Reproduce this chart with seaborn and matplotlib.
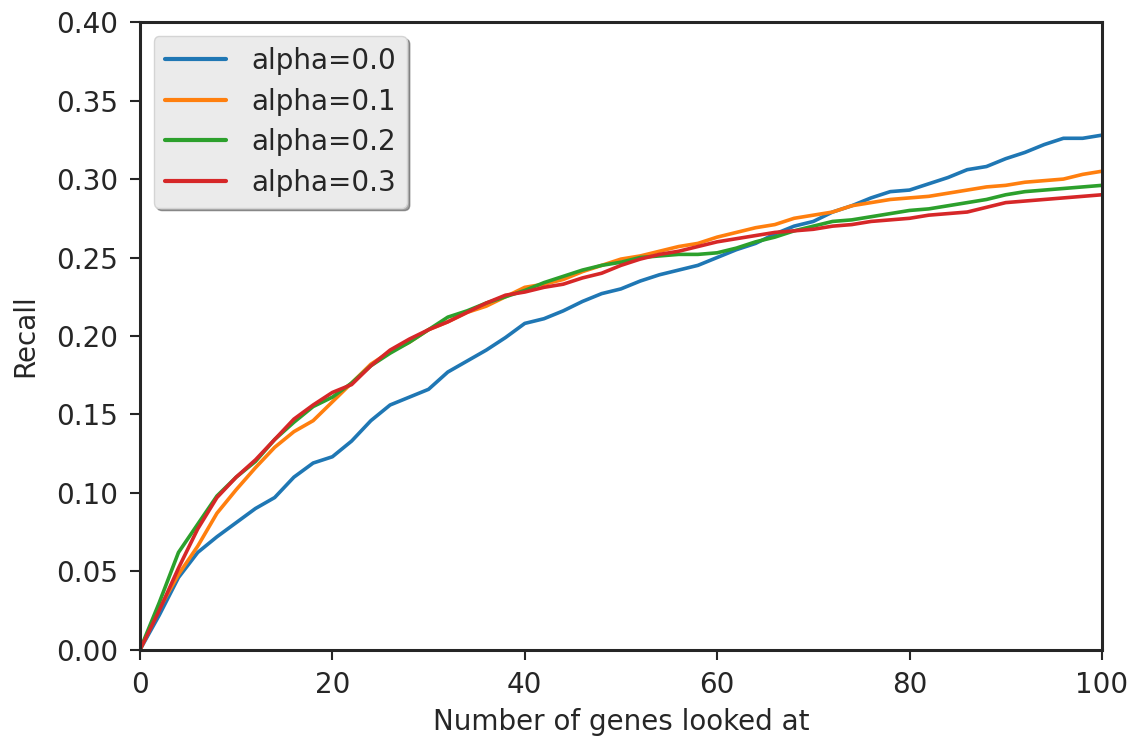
import numpy as np
import pandas as pd
import seaborn as sns
import matplotlib.pyplot as plt

# genes looked at (every 2nd point)
n_genes = list(range(0, 101, 2))

recall_a00 = [0.000, 0.022, 0.046, 0.062, 0.072, 0.081, 0.090, 0.097, 0.110, 0.119,
              0.123, 0.133, 0.146, 0.156, 0.161, 0.166, 0.177, 0.184, 0.191, 0.199,
              0.208, 0.211, 0.216, 0.222, 0.227, 0.230, 0.235, 0.239, 0.242, 0.245,
              0.250, 0.255, 0.259, 0.265, 0.270, 0.273, 0.279, 0.283, 0.288, 0.292,
              0.293, 0.297, 0.301, 0.306, 0.308, 0.313, 0.317, 0.322, 0.326, 0.326,
              0.328]
recall_a01 = [0.000, 0.026, 0.048, 0.066, 0.087, 0.102, 0.116, 0.129, 0.139, 0.146,
              0.158, 0.170, 0.182, 0.190, 0.196, 0.204, 0.209, 0.215, 0.219, 0.225,
              0.231, 0.233, 0.236, 0.241, 0.245, 0.249, 0.251, 0.254, 0.257, 0.259,
              0.263, 0.266, 0.269, 0.271, 0.275, 0.277, 0.279, 0.283, 0.285, 0.287,
              0.288, 0.289, 0.291, 0.293, 0.295, 0.296, 0.298, 0.299, 0.300, 0.303,
              0.305]
recall_a02 = [0.000, 0.030, 0.062, 0.080, 0.098, 0.110, 0.120, 0.134, 0.145, 0.155,
              0.161, 0.170, 0.181, 0.189, 0.196, 0.204, 0.212, 0.216, 0.221, 0.225,
              0.229, 0.234, 0.238, 0.242, 0.245, 0.247, 0.250, 0.251, 0.252, 0.252,
              0.253, 0.256, 0.260, 0.263, 0.267, 0.270, 0.273, 0.274, 0.276, 0.278,
              0.280, 0.281, 0.283, 0.285, 0.287, 0.290, 0.292, 0.293, 0.294, 0.295,
              0.296]
recall_a03 = [0.000, 0.025, 0.052, 0.077, 0.097, 0.110, 0.121, 0.134, 0.147, 0.156,
              0.164, 0.169, 0.181, 0.191, 0.198, 0.204, 0.209, 0.215, 0.221, 0.226,
              0.228, 0.231, 0.233, 0.237, 0.240, 0.245, 0.249, 0.252, 0.254, 0.257,
              0.260, 0.262, 0.264, 0.266, 0.267, 0.268, 0.270, 0.271, 0.273, 0.274,
              0.275, 0.277, 0.278, 0.279, 0.282, 0.285, 0.286, 0.287, 0.288, 0.289,
              0.290]

labels = ['alpha=0.0', 'alpha=0.1', 'alpha=0.2', 'alpha=0.3']
series = [recall_a00, recall_a01, recall_a02, recall_a03]

df = pd.concat([pd.DataFrame({'genes': n_genes, 'recall': s, 'alpha': lab})
                for lab, s in zip(labels, series)])

sns.set_style('white')
plt.rcParams['font.family'] = ['DejaVu Sans']
plt.rcParams['text.color'] = '#262626'

fig = plt.figure(figsize=(11.29, 7.40), dpi=100)
ax = fig.add_axes([0.124, 0.122, 0.852, 0.848])

sns.lineplot(data=df, x='genes', y='recall', hue='alpha', hue_order=labels,
             palette=sns.color_palette('tab10', 4), linewidth=2.6, ax=ax)

ax.set_xlim(0, 100)
ax.set_ylim(0, 0.40)
ax.set_xticks([0, 20, 40, 60, 80, 100])
ax.set_yticks(np.arange(0, 0.41, 0.05))
ax.set_yticklabels([f'{v:.2f}' for v in np.arange(0, 0.41, 0.05)])
ax.set_xlabel('Number of genes looked at', fontsize=20, color='#262626', labelpad=6)
ax.set_ylabel('Recall', fontsize=20, color='#262626', labelpad=12)
ax.tick_params(axis='both', labelsize=20, length=7.5, width=1.5, pad=8,
               color='#262626', labelcolor='#262626', direction='out',
               left=True, bottom=True)
for sp in ax.spines.values():
    sp.set_linewidth(2.2)
    sp.set_color('#262626')

leg = ax.legend(loc='upper left', fontsize=20, shadow=True, frameon=True,
                facecolor='#ebebeb', edgecolor='#d4d4d4', framealpha=1,
                handlelength=2.2, handletextpad=0.9, labelspacing=0.45,
                borderaxespad=0.5, fancybox=True)
leg.set_title(None)
for line in leg.get_lines():
    line.set_linewidth(3)

fig.savefig('out.png', dpi=100)
